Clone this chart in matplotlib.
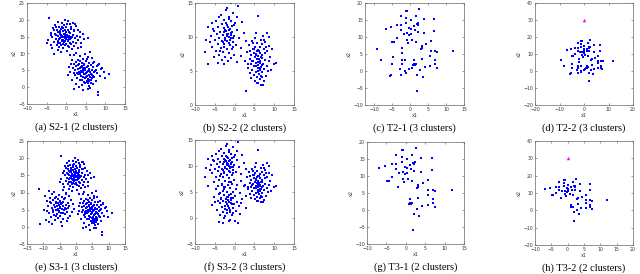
import numpy as np
import matplotlib
matplotlib.use("Agg")
import matplotlib.pyplot as plt

# S-1 data: upper cluster, lower-right cluster, extra left cluster (S3-1 only)
s1_top = np.array([
    (-4.5,20.5),(-0.2,20.0),(0.5,19.6),(-1.0,19.2),(1.8,19.0),(-2.8,18.6),(-0.6,18.4),(0.9,18.7),(-1.9,18.0),(2.6,18.2),
    (-3.3,17.6),(-0.1,17.8),(1.3,17.4),(-1.4,17.2),(0.4,17.0),(-2.4,16.9),(2.1,16.8),(-0.8,16.6),(3.4,16.4),(-3.8,16.2),
    (-1.7,16.1),(0.0,16.3),(1.0,16.0),(-2.9,15.8),(-0.4,15.7),(1.8,15.6),(-1.2,15.4),(0.6,15.3),(2.7,15.2),(-3.5,15.0),
    (-2.2,15.1),(-0.9,14.9),(0.2,14.8),(1.4,14.9),(-1.6,14.6),(-0.1,14.4),(2.3,14.5),(-2.7,14.3),(0.9,14.2),(-4.6,14.0),
    (-1.1,14.0),(3.1,14.0),(-2.0,13.8),(0.4,13.7),(1.7,13.5),(-0.6,13.4),(-3.2,13.3),(2.6,13.2),(-1.5,13.1),(0.0,12.9),
    (-5.0,13.0),(1.2,12.8),(-2.4,12.6),(-0.3,12.4),(2.0,12.3),(-1.8,12.0),(0.8,11.9),(-3.6,11.7),(3.8,12.0),(-0.9,11.5),
    (1.5,11.2),(-2.2,11.0),(0.2,10.8),(-1.3,10.4),(2.5,10.2),(-3.0,9.8),(0.9,9.6),(5.6,14.6),(4.2,15.8),(3.8,13.2),
    (-2.5,17.8),(-0.4,16.9),(0.8,16.5),(-1.5,15.9),(-0.2,15.2),(1.1,14.6),(-0.7,14.1),(-1.9,14.3),(0.5,14.0),(-0.4,13.6),
    (1.9,16.9),(-3.0,17.0),(-1.0,18.0),(2.9,17.1),(-2.0,16.4),(-0.5,15.9),(0.3,15.6),(-1.0,15.2),(0.9,15.0),(-2.6,15.4),
    (-1.4,14.8),(-0.3,14.6),(0.6,14.5),(-1.0,13.6),(1.0,13.2),(-2.0,13.0),(-0.8,12.8),(0.4,12.2),(-1.2,12.5),(2.9,11.5),
    (-4.0,15.6),(-3.9,12.6),(4.5,14.3),(3.6,15.0),(2.2,18.8),(-2.1,19.3),(1.2,17.9),(-1.6,16.6),(-0.9,17.5),(0.1,18.9)])
s1_right = np.array([
    (6.0,10.4),(4.8,9.8),(2.0,9.6),(3.6,9.2),(5.6,9.0),(1.5,8.2),(4.2,8.4),(6.5,8.6),(3.0,8.0),(5.0,7.8),
    (7.2,7.6),(2.4,7.4),(4.0,7.3),(5.8,7.1),(8.4,7.0),(1.2,6.8),(3.3,6.8),(4.6,6.6),(6.4,6.5),(7.8,6.3),
    (2.6,6.2),(3.9,6.1),(5.2,6.0),(6.9,5.9),(1.8,5.8),(4.4,5.6),(5.9,5.5),(8.8,5.5),(3.0,5.4),(4.9,5.2),
    (6.5,5.1),(2.2,5.0),(3.7,4.9),(5.5,4.8),(7.4,4.8),(1.0,4.6),(4.2,4.5),(6.1,4.4),(9.6,4.5),(2.8,4.3),
    (5.0,4.2),(7.9,4.1),(11.0,4.0),(3.5,4.0),(4.6,3.8),(6.6,3.7),(0.5,3.6),(2.3,3.5),(5.4,3.4),(8.6,3.3),
    (3.9,3.2),(6.0,3.0),(7.2,2.9),(2.7,2.8),(4.8,2.6),(9.8,2.8),(5.6,2.4),(3.4,2.2),(6.4,2.1),(5.2,1.9),
    (5.9,1.7),(4.5,1.6),(6.2,1.3),(5.5,1.2),(2.5,1.0),(6.8,0.9),(4.0,0.6),(5.7,0.4),(3.2,0.0),(6.1,-0.2),
    (2.0,-0.4),(8.0,-1.5),(8.1,-2.4),(4.4,-0.8),(7.5,1.8),(1.5,2.2),(0.8,6.0),(8.2,6.6),(9.2,5.8),(3.1,6.6),
    (4.1,6.3),(4.8,5.8),(5.6,6.3),(3.4,5.8),(4.3,5.1),(5.2,4.5),(6.3,4.0),(3.8,4.4),(4.9,3.9),(5.8,3.6),
    (2.9,3.8),(4.3,3.0),(5.1,2.9),(6.5,2.6),(3.6,7.9),(5.4,8.3),(6.8,7.3),(2.1,6.9),(7.6,5.2),(4.6,7.0),
    (5.8,5.2),(3.2,4.6),(4.1,2.2),(6.9,3.3),(1.9,4.2),(7.0,4.5),(5.3,1.5),(6.0,2.2),(4.9,1.1),(5.6,-0.4)])
s1_left = np.array([
    (-11.4,11.0),(-8.4,10.4),(-6.6,10.1),(-4.0,10.6),(-7.4,9.5),(-5.2,9.3),(-3.1,9.6),(-9.6,9.0),(-6.1,8.8),(-4.4,8.6),
    (-2.2,8.9),(-8.1,8.4),(-5.6,8.1),(-3.6,8.0),(-7.0,7.8),(-4.9,7.6),(-1.5,7.7),(-9.0,7.4),(-6.2,7.3),(-3.9,7.2),
    (-2.6,7.0),(-7.7,6.9),(-5.4,6.8),(-4.5,6.6),(-6.8,6.5),(-3.2,6.4),(-0.9,6.6),(-8.6,6.2),(-5.9,6.1),(-4.1,6.0),
    (-5.0,5.9),(-6.5,5.7),(-3.5,5.6),(-7.4,5.5),(-2.4,5.4),(-5.5,5.3),(-4.4,5.2),(-9.8,5.0),(-6.2,4.9),(-3.8,4.8),
    (-5.1,4.6),(-7.0,4.4),(-2.9,4.3),(-4.6,4.1),(-8.3,3.9),(-5.8,3.8),(-3.5,3.6),(-6.7,3.4),(-1.8,3.3),(-4.9,3.1),
    (-7.8,2.8),(-5.5,2.6),(-3.9,2.4),(-9.1,2.1),(-6.4,1.9),(-2.7,1.8),(-8.4,1.5),(-4.6,1.3),(-7.2,0.9),(-10.9,0.7),
    (-4.3,0.1),(-5.2,6.4),(-4.8,5.5),(-5.9,5.0),(-4.2,6.8),(-6.1,6.9),(-3.0,5.1),(-6.9,4.9),(-5.3,4.2),(-4.0,3.9),
    (-6.0,3.1),(-3.3,8.3),(-7.9,7.3),(-2.0,6.2),(-8.9,4.5),(-6.4,8.5),(-0.6,5.2),(-1.2,4.4),(-2.3,2.6),(-5.0,7.2)])

# S-2 data: left cluster, right cluster, extra lower cluster (S3-2 only)
s2_left = np.array([
    (-1.0,15.0),(0.8,14.6),(-2.2,13.9),(-0.3,13.6),(-3.5,13.2),(-1.4,13.0),(0.5,12.9),(-4.6,12.4),(-2.6,12.5),(-0.8,12.3),
    (1.8,12.2),(-5.8,12.0),(-3.3,11.9),(-1.9,11.8),(-0.1,11.7),(-6.8,11.4),(-4.2,11.4),(-2.7,11.3),(-1.2,11.2),(0.6,11.1),
    (-5.1,10.9),(-3.6,10.8),(-2.1,10.9),(-0.6,10.7),(2.3,10.6),(-4.5,10.4),(-2.9,10.3),(-1.6,10.4),(-0.2,10.2),(-6.0,10.1),
    (-3.9,9.9),(-2.4,9.8),(-1.0,9.9),(1.2,9.8),(-7.2,9.6),(-5.0,9.5),(-3.2,9.4),(-1.8,9.4),(-0.4,9.3),(-4.3,9.0),
    (-2.6,8.9),(-1.2,8.8),(0.4,8.8),(-5.7,8.6),(-3.5,8.4),(-2.0,8.3),(-0.7,8.2),(1.6,8.4),(-4.8,7.9),(-2.9,7.8),
    (-1.5,7.7),(-7.6,7.8),(-3.9,7.4),(-0.2,7.3),(-2.3,7.1),(-5.2,7.0),(-1.0,6.9),(-3.3,6.6),(-1.7,6.4),(-4.1,6.2),
    (-6.8,6.1),(0.5,6.3),(-2.6,6.0),(-1.3,10.0),(-2.0,10.5),(-1.5,11.0),(-0.9,10.3),(-2.3,9.6),(-1.1,9.6),(-1.7,11.5),
    (-2.5,11.1),(-0.7,11.6),(-1.9,10.1),(-1.0,10.6),(-2.8,10.8),(-3.0,9.2),(-1.4,9.1),(-2.2,12.0),(-1.3,12.6),(-0.3,9.9),
    (2.9,9.4),(1.5,7.2),(-4.0,12.9),(-5.5,11.2),(-6.3,9.2),(0.2,12.1),(-1.8,14.3),(-0.5,8.6),(-3.6,8.0),(-2.7,8.6)])
s2_right = np.array([
    (6.0,13.1),(8.1,10.6),(7.1,10.2),(8.6,10.0),(5.2,9.8),(6.6,9.6),(4.3,9.4),(7.8,9.3),(5.7,9.1),(6.9,8.9),
    (3.6,8.8),(8.8,8.7),(5.1,8.6),(6.3,8.5),(4.6,8.3),(7.4,8.2),(5.8,8.1),(8.2,7.9),(3.1,7.8),(4.9,7.7),
    (6.5,7.7),(5.4,7.5),(7.0,7.4),(4.2,7.3),(6.0,7.2),(8.9,7.1),(5.2,7.0),(6.8,6.9),(3.8,6.8),(5.7,6.7),
    (7.6,6.6),(4.7,6.5),(6.3,6.4),(2.6,6.4),(5.4,6.2),(7.2,6.1),(10.5,6.2),(9.9,6.0),(4.1,6.0),(6.0,5.9),
    (8.3,5.8),(5.0,5.7),(6.7,5.6),(3.4,5.5),(5.8,5.4),(7.5,5.3),(4.5,5.2),(6.4,5.1),(9.2,5.2),(5.3,4.9),
    (7.0,4.8),(3.9,4.7),(6.1,4.6),(4.8,4.4),(6.7,4.3),(8.0,4.2),(5.6,4.1),(4.2,3.9),(6.4,3.8),(5.1,3.6),
    (7.3,3.5),(6.0,3.3),(6.6,3.0),(7.1,3.0),(2.9,2.0),(6.2,6.8),(5.6,7.9),(6.1,8.0),(5.0,8.2),(6.5,6.2),
    (5.9,6.3),(5.5,5.8),(6.3,5.5),(5.9,5.0),(6.9,5.9),(5.3,7.3),(6.6,7.0),(4.4,6.4),(7.7,7.6),(4.7,9.1),
    (7.9,8.6),(8.6,6.4),(9.5,8.2),(3.3,6.0),(5.7,3.2),(6.9,4.1),(4.0,8.0),(8.4,5.0),(7.3,9.6),(5.5,10.6)])
s2_low = np.array([
    (-1.5,7.0),(-3.3,6.4),(-0.6,6.5),(2.3,6.1),(-2.4,5.9),(-4.6,5.6),(-1.2,5.7),(0.4,5.5),(-3.0,5.2),(-1.9,5.0),
    (1.3,4.9),(-4.0,4.7),(-0.8,4.6),(-2.6,4.4),(0.2,4.3),(-5.2,4.1),(-1.6,4.0),(-3.5,3.9),(-0.3,3.8),(1.8,3.7),
    (-2.2,3.6),(-1.0,3.5),(-4.3,3.3),(-2.9,3.2),(-1.4,3.1),(0.6,3.0),(-3.7,2.8),(-2.0,2.7),(-0.7,2.6),(-5.6,2.5),
    (-1.7,2.3),(1.0,2.3),(-3.1,2.1),(-0.3,2.0),(-2.4,1.8),(-4.4,1.6),(-1.2,1.5),(0.3,1.3),(-2.9,1.1),(-1.8,0.9),
    (-3.8,0.6),(-0.6,0.6),(1.4,0.8),(-2.3,0.3),(-4.0,-0.8),(-3.0,-0.9),(0.8,-1.0),(-1.1,-0.3),(-1.6,3.4),(-1.0,2.9),
    (-2.1,3.0),(-1.3,2.0),(-0.9,3.9),(-2.5,2.4),(-1.9,1.6),(-0.5,1.0),(-3.4,3.6),(-2.7,5.5),(-0.4,5.0),(2.8,4.2),
    (-4.9,3.0),(-1.4,4.4),(-2.0,4.0),(-1.2,1.2),(-0.1,2.6),(-2.8,0.0),(-1.5,-0.6),(0.1,-0.5),(-3.6,4.9),(1.7,2.9)])

# T data: points shared by T2/T3, extra points only in T2, and the outlier
t_main = np.array([
    (-1.1,17.7),(-0.7,17.7),(2.5,18.3),(-2.6,16.2),(-1.1,15.7),(1.6,16.2),(3.9,15.4),(-5.4,13.0),(-3.5,13.5),(-2.6,13.5),
    (-6.8,12.3),(-1.1,14.1),(1.9,13.9),(2.3,14.1),(2.1,13.6),(0.2,14.9),(0.2,12.3),(-0.2,12.7),(-0.7,11.3),(-0.2,10.7),
    (0.2,11.0),(-2.6,12.0),(-1.7,11.0),(1.4,12.0),(2.1,11.5),(3.9,11.3),(6.7,11.8),(1.1,13.2),(6.7,15.2),(-3.5,9.8),
    (-4.4,8.6),(-4.9,8.6),(-0.7,9.2),(0.6,9.2),(1.6,8.6),(-0.5,8.1),(5.7,8.9),(4.4,7.9),(3.2,7.3),(3.0,6.6),
    (3.2,6.9),(-2.1,6.9),(5.7,5.9),(6.9,5.9),(7.6,5.6),(11.9,5.9),(1.1,3.2),(3.2,3.5),(5.6,4.5),(6.9,3.2),
    (1.1,2.0),(1.4,1.7),(0.9,1.7),(1.7,2.2),(6.9,2.0),(4.2,1.2),(5.6,1.5),(7.4,0.9),(2.8,0.3),(2.0,-1.2),
    (3.5,-1.9),(1.9,-5.9)])
t_extra = np.array([
    (-9.3,6.6),(-2.1,5.2),(-4.8,4.0),(-8.1,3.2),(-2.3,3.2),(-1.4,3.2),(-5.1,2.0),(-2.3,2.0),(-2.8,0.7),(-0.2,0.5),
    (0.5,0.9),(-1.4,0.0),(-5.4,-1.2),(-5.6,-1.5),(-2.6,-1.2),(-1.2,-0.7)])
outlier = np.array([(0.0, 30.0)])

captions = ["(a) S2-1 (2 clusters)", "(b) S2-2 (2 clusters)", "(c) T2-1 (3 clusters)", "(d) T2-2 (3 clusters)",
            "(e) S3-1 (3 clusters)", "(f) S3-2 (3 clusters)", "(g) T3-1 (2 clusters)", "(h) T3-2 (2 clusters)"]

panels = [
    (np.vstack([s1_top, s1_right]), False, (-10, 15), (-5, 25), range(-10, 16, 5), range(-5, 26, 5)),
    (np.vstack([s2_left, s2_right]), False, (-10, 15), (0, 15), range(-10, 16, 5), range(0, 16, 5)),
    (np.vstack([t_main, t_extra]), False, (-12.5, 15), (-10, 20), range(-10, 16, 5), range(-10, 21, 5)),
    (np.vstack([t_main, t_extra]), True, (-20, 20), (-20, 40), range(-20, 21, 10), range(-20, 41, 10)),
    (np.vstack([s1_top, s1_right, s1_left]), False, (-15, 15), (-5, 25), range(-15, 16, 5), range(-5, 26, 5)),
    (np.vstack([s2_left, s2_right, s2_low]), False, (-10, 15), (-5, 15), range(-10, 16, 5), range(-5, 16, 5)),
    (t_main, False, (-10, 15), (-10, 20), range(-10, 16, 5), range(-10, 21, 5)),
    (t_main, True, (-10, 20), (-20, 40), range(-10, 21, 5), range(-20, 41, 10)),
]

# axes boxes in pixels (left, right, top, bottom) of a 640x274 image
boxes = [(27, 125, 3, 104), (195, 294, 3, 105), (365, 464, 3, 105), (535, 633, 3, 105),
         (27, 125, 141, 244), (195, 294, 140, 244), (367, 464, 142, 244), (535, 633, 141, 245)]

W, H = 640, 274
fig = plt.figure(figsize=(W / 100, H / 100), dpi=100)

for i, (pts, has_out, xl, yl, xt, yt) in enumerate(panels):
    l, r, t, b = boxes[i]
    ax = fig.add_axes([l / W, 1 - b / H, (r - l) / W, (b - t) / H])
    ax.plot(pts[:, 0], pts[:, 1], 's', color='#0000ff', ms=1.7, mew=0)
    if has_out:
        ax.plot(outlier[:, 0], outlier[:, 1], '^', color='#ff00ff', ms=2.5, mew=0)
    ax.set_xlim(xl)
    ax.set_ylim(yl)
    ax.set_xticks(list(xt))
    ax.set_yticks(list(yt))
    ax.tick_params(direction='in', length=1.5, width=0.4, labelsize=3.3, pad=1.5,
                   top=True, right=True, colors='#555555', labelcolor='#333333')
    for sp in ax.spines.values():
        sp.set_linewidth(0.5)
        sp.set_color('#666666')
    ax.set_xlabel('x1', fontsize=3.5, labelpad=1, color='#333333')
    ax.set_ylabel('x2', fontsize=3.5, labelpad=1, color='#333333')
    cx = (l + r) / 2 / W
    cy = 1 - (b + 23) / H
    fig.text(cx, cy, captions[i], ha='center', va='center', fontsize=7.5,
             family='Liberation Serif')

fig.savefig('out.png', dpi=100)
